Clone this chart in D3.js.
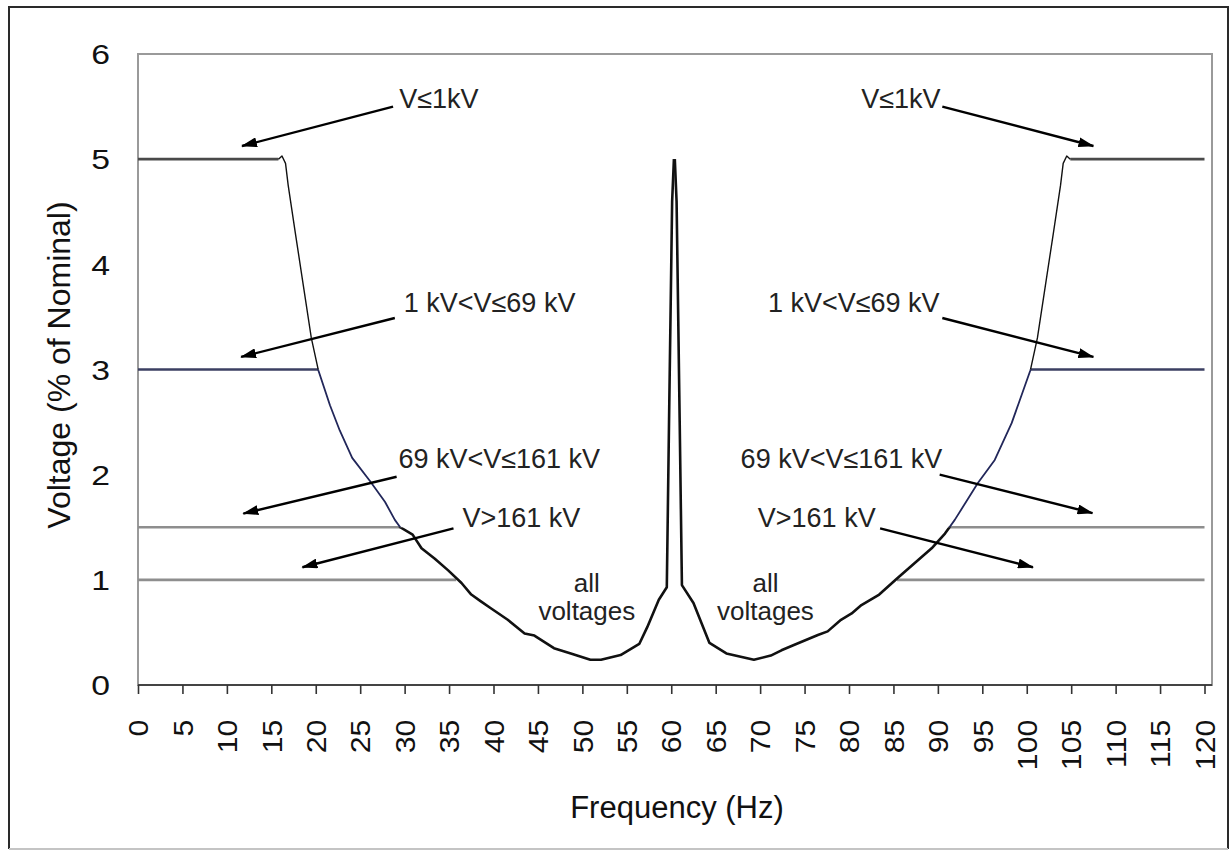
<!DOCTYPE html>
<html>
<head>
<meta charset="utf-8">
<script src="https://cdn.jsdelivr.net/npm/d3@7"></script>
<style>
  body { margin: 0; background: #fff; }
  svg { display: block; }
  text { font-family: Arial, "Liberation Sans", sans-serif; }
</style>
</head>
<body>
<svg id="chart"></svg>
<script>
// ---- data ----
const xTickValues = [0,5,10,15,20,25,30,35,40,45,50,55,60,65,70,75,80,85,90,95,100,105,110,115,120];
const yTickValues = [0,1,2,3,4,5,6];

// flat limits (% of nominal) and where each one meets the curve (Hz)
const levels      = [5, 3, 1.5, 1];
const levelNames  = ["V\u22641kV", "1 kV<V\u226469 kV", "69 kV<V\u2264161 kV", "V>161 kV"];
const kneeLeft    = [15.8, 20.3, 29.5, 35.8];
const kneeRight   = [104.9, 100.4, 91.2, 85.4];

// "all voltages" envelope, [Hz, %]
const curveLeft = [
  [15.8,5.00],[16.2,5.03],[16.6,4.96],[16.9,4.75],[17.7,4.30],[18.6,3.80],[19.5,3.30],
  [20.3,2.99],[21.6,2.66],[22.7,2.42],[24.1,2.16],[26.1,1.94],[27.8,1.74],[28.9,1.57],
  [29.5,1.50],[30.9,1.43],[31.9,1.30],[33.4,1.20],[34.9,1.09],[36.4,0.97],[37.5,0.86],
  [38.5,0.80],[39.7,0.73],[41.6,0.62],[43.5,0.49],[44.6,0.47],[46.8,0.35],[48.7,0.30],
  [50.9,0.24],[52.1,0.24],[54.3,0.285],[56.4,0.39],[57.3,0.55],[58.6,0.81],[59.5,0.93],
  [59.75,2.5],[60.1,4.6],[60.3,5.0]
];
const curveRight = [
  [60.4,5.0],[60.6,4.6],[60.95,2.5],[61.2,0.95],[62.5,0.78],[64.3,0.40],[66.2,0.30],
  [69.3,0.24],[71.2,0.28],[72.4,0.33],[73.8,0.38],[76.5,0.475],[77.6,0.51],[79.1,0.62],
  [80.3,0.68],[81.4,0.76],[83.4,0.86],[85.5,1.02],[87.4,1.16],[89.3,1.30],[90.8,1.44],
  [91.9,1.57],[94.5,1.92],[96.4,2.14],[98.3,2.49],[100.4,2.99],[101.2,3.30],[102.1,3.80],
  [103.0,4.30],[103.8,4.75],[104.1,4.96],[104.5,5.03],[104.9,5.0]
];

// annotation layout in data units: label anchor, arrow start, arrow tip
const annotations = [
  {i:0, side:"L", tx:29.4, ty:5.49, x1:28.7, y1:5.50, x2:11.7,  y2:5.125},
  {i:1, side:"L", tx:29.9, ty:3.55, x1:28.9, y1:3.49, x2:11.6,  y2:3.12},
  {i:2, side:"L", tx:29.3, ty:2.06, x1:29.1, y1:1.98, x2:11.85, y2:1.63},
  {i:3, side:"L", tx:36.5, ty:1.50, x1:35.5, y1:1.49, x2:18.5,  y2:1.12},
  {i:0, side:"R", tx:90.3, ty:5.49, x1:90.5, y1:5.50, x2:107.5, y2:5.125},
  {i:1, side:"R", tx:90.2, ty:3.55, x1:90.5, y1:3.49, x2:107.5, y2:3.12},
  {i:2, side:"R", tx:90.5, ty:2.06, x1:90.2, y1:2.00, x2:107.4, y2:1.635},
  {i:3, side:"R", tx:83.0, ty:1.50, x1:83.5, y1:1.49, x2:100.7, y2:1.12}
];
const allVoltagesAt = [50.5, 70.6];

// ---- layout ----
const width = 1230, height = 854;
const margin = {top: 54, right: 18, bottom: 169, left: 138};
const plotW = width - margin.left - margin.right;
const plotH = height - margin.top - margin.bottom;

const svg = d3.select("#chart").attr("width", width).attr("height", height);

// outer frame
svg.append("path")
  .attr("d", "M9,849 L9,7 L1228,7 L1228,849")
  .attr("fill", "none").attr("stroke", "#2a2a2a").attr("stroke-width", 2);
svg.append("line")
  .attr("x1", 9).attr("x2", 1228).attr("y1", 849).attr("y2", 849)
  .attr("stroke", "#c4c4c4").attr("stroke-width", 2);

const x = d3.scaleLinear().domain([0, 120]).range([0, plotW - 7.5]);
const y = d3.scaleLinear().domain([0, 6]).range([plotH, 0]);

const g = svg.append("g").attr("transform", `translate(${margin.left},${margin.top})`);

// plot frame
g.append("rect")
  .attr("x", 0).attr("y", 0).attr("width", plotW).attr("height", plotH)
  .attr("fill", "none").attr("stroke", "#9a9a9a").attr("stroke-width", 2);
g.append("line")
  .attr("x1", 0).attr("x2", plotW).attr("y1", plotH).attr("y2", plotH)
  .attr("stroke", "#444").attr("stroke-width", 2);

// axes
const xAxis = g.append("g")
  .attr("transform", `translate(0,${plotH})`)
  .call(d3.axisBottom(x).tickValues(xTickValues).tickSize(9).tickFormat(d3.format("d")));
xAxis.select(".domain").remove();
xAxis.selectAll(".tick line").attr("stroke", "#333").attr("stroke-width", 1.6);
xAxis.selectAll(".tick text")
  .attr("transform", "rotate(-90) scale(1.12,1)")
  .attr("text-anchor", "end")
  .attr("x", -31).attr("y", 0).attr("dy", "0.36em")
  .attr("font-size", 27).attr("fill", "#111");

const yAxis = g.append("g")
  .call(d3.axisLeft(y).tickValues(yTickValues).tickSize(0).tickPadding(28).tickFormat(d3.format("d")));
yAxis.select(".domain").remove();
yAxis.selectAll(".tick text")
  .attr("font-size", 27).attr("fill", "#111").attr("dy", "0.36em")
  .attr("transform", "translate(-28,0) scale(1.25,1) translate(28,0)");

// axis titles
svg.append("text")
  .attr("x", 677).attr("y", 818)
  .attr("text-anchor", "middle").attr("font-size", 31).attr("fill", "#111")
  .text("Frequency (Hz)");
svg.append("text")
  .attr("transform", "translate(70,365) rotate(-90)")
  .attr("text-anchor", "middle").attr("font-size", 32).attr("fill", "#111")
  .text("Voltage (% of Nominal)");

// flat limits
const line = d3.line().x(d => x(d[0])).y(d => y(d[1]));
const levelColors = ["#4a4a4a", "#3b3f62", "#8e8e8e", "#8e8e8e"];
levels.forEach((v, i) => {
  [[[0, v], [kneeLeft[i], v]], [[kneeRight[i], v], [120, v]]].forEach(seg => {
    g.append("path")
      .attr("d", line(seg))
      .attr("fill", "none")
      .attr("stroke", levelColors[i])
      .attr("stroke-width", 2.6);
  });
});

// curve drawn in three bands so its weight changes like in the original
const defs = svg.append("defs");
const bands = [
  {id: "bHigh", lo: 3,   hi: 6.2, color: "#111",    w: 1.4, sides: true},
  {id: "bMid",  lo: 1.5, hi: 3,   color: "#22275a", w: 1.8, sides: true},
  {id: "bLow",  lo: -1,  hi: 1.5, color: "#111",    w: 2.6, sides: false}
];
bands.forEach(b => {
  const cp = defs.append("clipPath").attr("id", b.id);
  if (b.sides) {
    [[0, 50], [70, 121]].forEach(([a, c]) => {
      cp.append("rect").attr("x", x(a)).attr("width", x(c) - x(a))
        .attr("y", y(b.hi)).attr("height", y(b.lo) - y(b.hi));
    });
  } else {
    cp.append("rect").attr("x", x(0)).attr("width", x(121) - x(0))
      .attr("y", y(b.hi)).attr("height", y(b.lo) - y(b.hi));
    cp.append("rect").attr("x", x(50)).attr("width", x(70) - x(50))
      .attr("y", y(6.2)).attr("height", y(-1) - y(6.2));
  }
  [curveLeft, curveRight].forEach(c => {
    g.append("path")
      .attr("d", line(c))
      .attr("clip-path", `url(#${b.id})`)
      .attr("fill", "none")
      .attr("stroke", b.color)
      .attr("stroke-width", b.w)
      .attr("stroke-linejoin", "round");
  });
});

// arrows + labels
defs.append("marker")
  .attr("id", "arrow")
  .attr("markerUnits", "userSpaceOnUse")
  .attr("viewBox", "0 0 16 10")
  .attr("markerWidth", 16).attr("markerHeight", 10)
  .attr("refX", 15).attr("refY", 5)
  .attr("orient", "auto")
  .append("path").attr("d", "M0,0 L16,5 L0,10 Z").attr("fill", "#000");

const ann = g.append("g");
ann.selectAll("line")
  .data(annotations)
  .join("line")
  .attr("x1", d => x(d.x1)).attr("y1", d => y(d.y1))
  .attr("x2", d => x(d.x2)).attr("y2", d => y(d.y2))
  .attr("stroke", "#000").attr("stroke-width", 2.4)
  .attr("marker-end", "url(#arrow)");
ann.selectAll("text")
  .data(annotations)
  .join("text")
  .attr("x", d => x(d.tx)).attr("y", d => y(d.ty))
  .attr("text-anchor", d => d.side === "L" ? "start" : "end")
  .attr("font-size", 27).attr("fill", "#222")
  .text(d => levelNames[d.i]);

allVoltagesAt.forEach(hz => {
  const t = g.append("text")
    .attr("text-anchor", "middle").attr("font-size", 26).attr("fill", "#222");
  t.append("tspan").attr("x", x(hz)).attr("y", y(0.885)).text("all");
  t.append("tspan").attr("x", x(hz)).attr("y", y(0.62)).text("voltages");
});
</script>
</body>
</html>
